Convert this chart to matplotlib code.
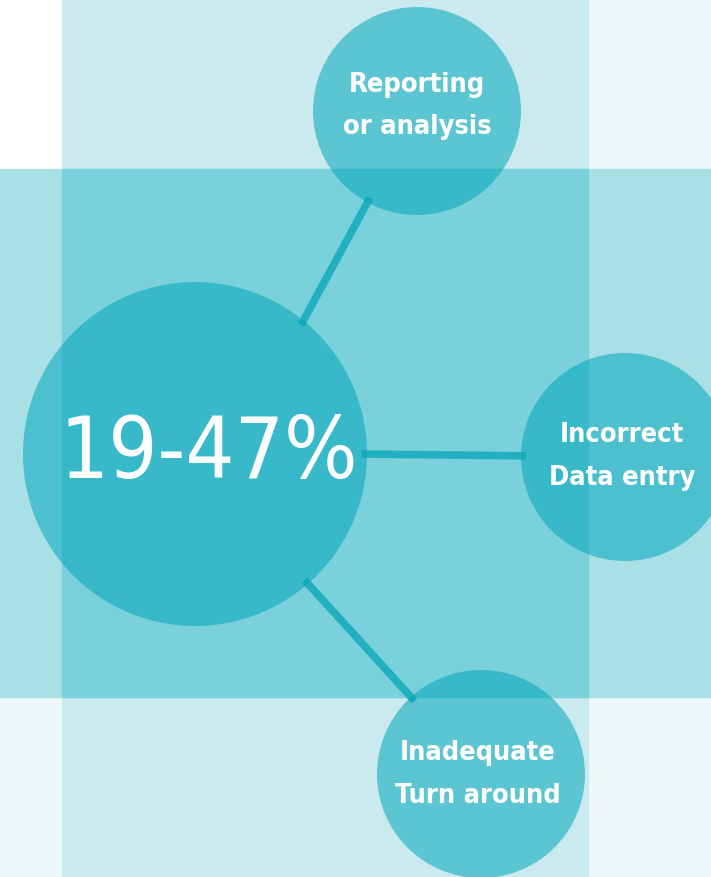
import matplotlib
matplotlib.use("Agg")
import matplotlib.pyplot as plt
from matplotlib.patches import Circle, Rectangle
import numpy as np

# content
main_label = "19-47%"
node_labels = ["Reporting\nor analysis", "Incorrect\nData entry", "Inadequate\nTurn around"]

# layout (pixels, y down)
W, H = 711, 878
main_xy, main_r = (195, 455), 172
node_xy = [(417, 112), (625, 458), (481, 775)]
node_r = 104
# angle (deg, y up) where each connector leaves the big circle
link_angles = [50.6, 0.0, -49.0]

fig = plt.figure(figsize=(W / 100, H / 100), dpi=100)
ax = fig.add_axes([0, 0, 1, 1])
ax.set_xlim(0, W)
ax.set_ylim(H, 0)
ax.axis("off")

# background blocks
ax.add_patch(Rectangle((0, 0), W, H, color="#eef8fa", zorder=0))
ax.add_patch(Rectangle((0, 0), 62, 170, color="#ffffff", zorder=0))
ax.add_patch(Rectangle((62, 0), 526, H, color="#cbeaf0", zorder=1))
ax.add_patch(Rectangle((0, 170), W, 528, color="#a9e0e6", zorder=1))
ax.add_patch(Rectangle((62, 170), 526, 528, color="#7bd1db", zorder=2))

# connectors
for (nx, ny), a in zip(node_xy, link_angles):
    t = np.radians(a)
    x0 = main_xy[0] + (main_r - 5) * np.cos(t)
    y0 = main_xy[1] - (main_r - 5) * np.sin(t)
    d = np.hypot(x0 - nx, y0 - ny)
    x1 = nx + (x0 - nx) / d * (node_r - 5)
    y1 = ny + (y0 - ny) / d * (node_r - 5)
    ax.plot([x0, x1], [y0, y1], color="#22b0c1", lw=5.5, solid_capstyle="butt", zorder=3)

circ_color = (0 / 255, 167 / 255, 187 / 255, 0.55)
ax.add_patch(Circle(main_xy, main_r, facecolor=circ_color, edgecolor="none", zorder=4))
for xy in node_xy:
    ax.add_patch(Circle(xy, node_r, facecolor=circ_color, edgecolor="none", zorder=4))

ax.text(209, 455, main_label, color="white", fontsize=62,
        family="DejaVu Sans", stretch="condensed", ha="center", va="center", zorder=5)

label_offsets = [(0, -6), (-3, -1), (-3, 0)]
for (x, y), (dx, dy), lab in zip(node_xy, label_offsets, node_labels):
    ax.text(x + dx, y + dy, lab, color="white", fontsize=19.5, fontweight="bold",
            family="DejaVu Sans", stretch="condensed", ha="center", va="center",
            linespacing=1.85, zorder=5)

plt.savefig("out.png", dpi=100)
